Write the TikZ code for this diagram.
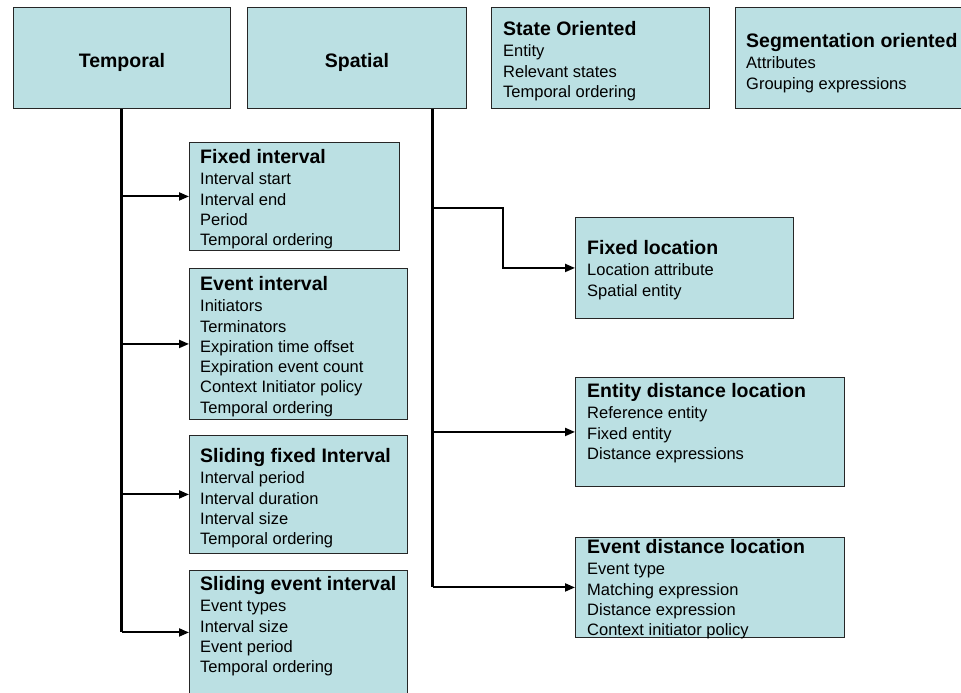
\documentclass[tikz,border=0pt]{standalone}
\usepackage{fontspec}
\setmainfont{Liberation Sans}
\usetikzlibrary{positioning}
\usetikzlibrary{arrows.meta}
\definecolor{boxfill}{RGB}{187,224,227}
\newcommand\boxtitle[1]{{\fontsize{19.5}{21}\selectfont\bfseries #1}\\[0.7pt]}

\begin{document}
\begin{tikzpicture}[
	x=1pt, y=-1pt,
	font=\fontsize{16.5}{20.3}\selectfont
]
\tikzset{
    mybox/.style = {rectangle, draw=black!85, line width=0.9pt, fill=boxfill, anchor=north west, inner sep=0pt},
    mainbox/.style = {mybox, minimum height=101, text height=19pt, text depth=0pt, font=\fontsize{19.5}{21}\selectfont\bfseries},
    mytext/.style = {anchor=north west, align=left, inner sep=0pt},
    trunk/.style = {line width=3pt},
    branch/.style = {line width=2pt, -{Triangle[length=10pt,width=8pt]}}
}
\clip (0,0) rectangle (961,693);
% top row
\node[mainbox, minimum width=217] at (13,7) (temporal) {Temporal};
\node[mainbox, minimum width=219] at (247,7) (spatial) {Spatial};
\node[mybox, minimum width=218, minimum height=101] at (491,7) (state) {};
\node[mybox, minimum width=240, minimum height=101] at (735,7) (segm) {};
\node[mytext] at (503,21.4) (tstate) {\boxtitle{State Oriented}Entity\\Relevant states\\Temporal ordering};
\node[mytext] at (746,33.4) (tsegm) {\boxtitle{Segmentation oriented}Attributes\\Grouping expressions};
%
% temporal windows
\node[mybox, minimum width=210, minimum height=108] at (189,142) (fixint) {};
\node[mybox, minimum width=218, minimum height=151] at (189,268) (evint) {};
\node[mybox, minimum width=218, minimum height=118] at (189,435) (slfix) {};
\node[mybox, minimum width=218, minimum height=124] at (189,570) (slev) {};
\node[mytext] at (200,149.4) (tfixint) {\boxtitle{Fixed interval}Interval start\\Interval end\\Period\\Temporal ordering};
\node[mytext] at (200,276.4) (tevint) {\boxtitle{Event interval}Initiators\\Terminators\\Expiration time offset\\Expiration event count\\Context Initiator policy\\Temporal ordering};
\node[mytext] at (200,448.4) (tslfix) {\boxtitle{Sliding fixed Interval}Interval period\\Interval duration\\Interval size\\Temporal ordering};
\node[mytext] at (200,576.4) (tslev) {\boxtitle{Sliding event interval}Event types\\Interval size\\Event period\\Temporal ordering};
%
% spatial windows
\node[mybox, minimum width=218, minimum height=101] at (575,217) (fixloc) {};
\node[mybox, minimum width=269, minimum height=109] at (575,377) (entdist) {};
\node[mybox, minimum width=269, minimum height=100] at (575,537) (evdist) {};
\node[mytext] at (587,240.4) (tfixloc) {\boxtitle{Fixed location}Location attribute\\Spatial entity};
\node[mytext] at (587,383.4) (tentdist) {\boxtitle{Entity distance location}Reference entity\\Fixed entity\\Distance expressions};
\node[mytext] at (587,539.4) (tevdist) {\boxtitle{Event distance location}Event type\\Matching expression\\Distance expression\\Context initiator policy};
%
% connectors
\draw[trunk] (temporal.south) -- (temporal.south |- slev.west);
\foreach \b in {fixint,evint,slfix,slev}
    \draw[branch] (temporal.south |- \b.west) -- (\b.west);
%
\coordinate (sproot) at ([xshift=-34pt]spatial.south east);
\coordinate (fixbend) at (503,208);
\draw[trunk] (sproot) -- (sproot |- evdist.west);
\draw[branch] (sproot |- fixbend) -- (fixbend) |- (fixloc.west);
\foreach \b in {entdist,evdist}
    \draw[branch] (sproot |- \b.west) -- (\b.west);
\end{tikzpicture}
\end{document}
